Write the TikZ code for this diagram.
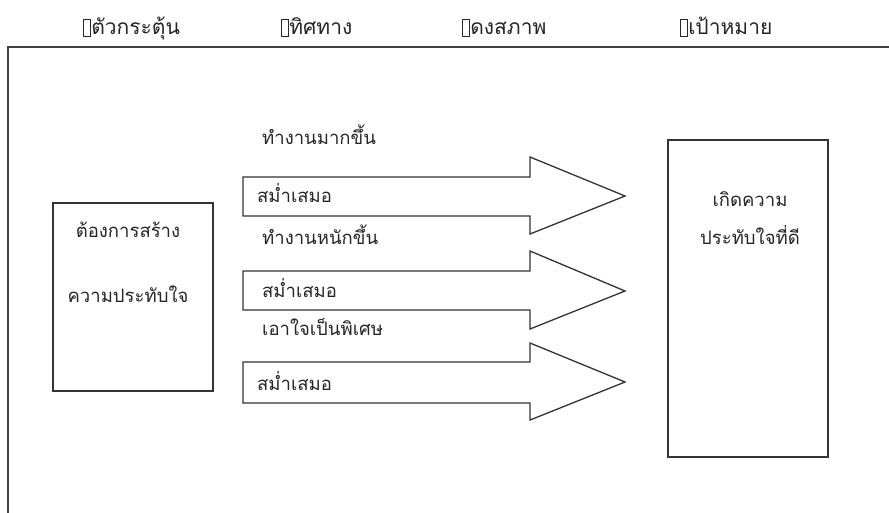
\documentclass[tikz,border=0pt]{standalone}
\usepackage{fontspec}
\newfontfamily\thaifont[Script=Thai]{Loma}
\newcommand\tofubox{{\setlength\fboxsep{0pt}\setlength\fboxrule{0.8pt}\raisebox{-1pt}{\fbox{\hbox to 6pt{\vrule height 16pt depth 0pt width 0pt\hfil}}}}}
\begin{document}
\begin{tikzpicture}[x=1pt,y=-1pt,
  hdr/.style={font=\thaifont\fontsize{21}{24}\selectfont, inner sep=0pt, anchor=base west, text=black!85},
  lbl/.style={font=\thaifont\fontsize{18.5}{22}\selectfont, inner sep=0pt, anchor=base west, text=black!85},
  ctr/.style={font=\thaifont\fontsize{18.5}{22}\selectfont, inner sep=0pt, anchor=base, text=black!85},
  shape line/.style={draw=black!80, line width=1.3pt, line join=miter, fill=white}]
\useasboundingbox (0,0) rectangle (889,513);
\fill[white] (0,0) rectangle (889,513);
% outer frame
\draw[black!75, line width=1.5pt] (8,513) -- (8,47) -- (889,47);
% header
\node[hdr] (h1) at (83,35) {\tofubox\hspace{0.5pt}ตัวกระตุ้น};
\node[hdr] (h2) at (281,35) {\tofubox\hspace{0.5pt}ทิศทาง};
\node[hdr] (h3) at (462,35) {\tofubox\hspace{0.5pt}ดงสภาพ};
\node[hdr] (h4) at (680,35) {\tofubox\hspace{0.5pt}เป้าหมาย};
% left box
\draw[shape line] (53,203) rectangle (213,391);
\node[ctr] (l1) at (128,237) {ต้องการสร้าง};
\node[ctr] (l2) at (128,302) {ความประทับใจ};
% right box
\draw[shape line] (668,140) rectangle (828,457);
\node[ctr] (r1) at (750,207) {เกิดความ};
\node[ctr] (r2) at (750,245) {ประทับใจที่ดี};
% arrows
\draw[shape line] (243,177) -- (530,177) -- (530,157) -- (625,196) -- (530,234) -- (530,216) -- (243,216) -- cycle;
\draw[shape line] (243,271) -- (530,271) -- (530,251) -- (625,291) -- (530,329) -- (530,310) -- (243,310) -- cycle;
\draw[shape line] (243,362) -- (530,362) -- (530,343) -- (625,382) -- (530,420) -- (530,403) -- (243,403) -- cycle;
% arrow labels
\node[lbl] (a1) at (262,145) {ทำงานมากขึ้น};
\node[lbl] (s1) at (257,203) {สม่ำเสมอ};
\node[lbl] (a2) at (262,245) {ทำงานหนักขึ้น};
\node[lbl] (s2) at (262,297) {สม่ำเสมอ};
\node[lbl] (a3) at (262,335) {เอาใจเป็นพิเศษ};
\node[lbl] (s3) at (257,390) {สม่ำเสมอ};
\end{tikzpicture}
\end{document}
